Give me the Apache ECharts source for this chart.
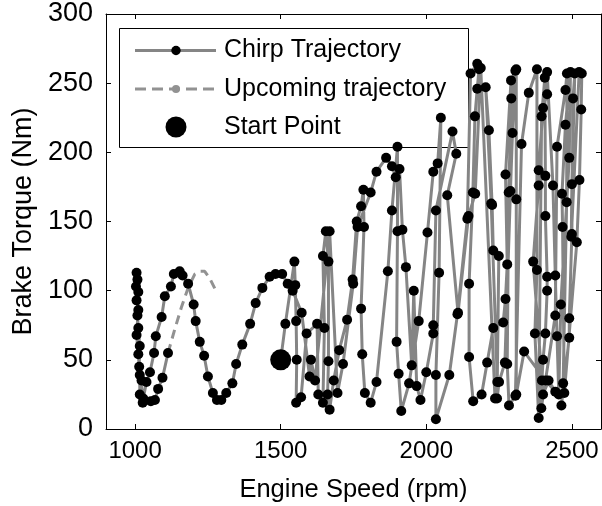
<!DOCTYPE html>
<html>
<head>
<meta charset="utf-8">
<script src="https://cdn.jsdelivr.net/npm/echarts@6/dist/echarts.min.js"></script>
<style>
html,body{margin:0;padding:0;background:#fff;}
#chart{width:602px;height:506px;}
</style>
</head>
<body>
<div id="chart"></div>
<script>
// ---- data ----
var chirpSpeed = [
1500,1516,1547,1550,1553,1555,1553,1570,1589,1625,1629,1645,1650,1645,1655,1664,1664,1661,1668,
1682,1701,1728,1747,1761,1776,1784,1786,1776,1780,1789,1809,1829,1868,1882,1901,1901,1898,1905,1914,
1941,1974,2004,2024,2039,2050,2044,2033,2033,2079,2107,2141,2152,2175,2181,2175,2167,2160,2147,2147,2161,
2190,2209,2230,2264,2272,2278,2272,2291,2306,2292,2283,2278,2284,2306,2327,2352,2380,2380,2373,2386,
2396,2407,2409,2409,2415,2415,2409,2401,2397,2395,2443,2449,2478,2483,2482,2470,2464,2491,2491,2500,
2504,2510,2500,2498,2525,2534,2532,2526,2517,2474,2468,2466,2478,2495,2491,2462,2455,2449,2443,2435,
2415,2415,2401,2386,2386,2367,2401,2420,2443,2410,2336,2309,2309,2309,2296,2289,2270,2250,2243,2249,2230,2226,2215,2204,
2223,2244,2236,2187,2168,2145,2109,2072,2103,2090,2033,2024,2024,2000,1980,1967,1957,1950,1930,1918,
1908,1895,1882,1862,1829,1809,1764,1749,1714,1695,1668,1618,1604,1599,1572,1541,1524,
1505,1482,1462,1437,1414,1395,1368,1347,1334,1313,1296,1281,1267,1250,1237,1222,1208,1201,1182,1163,
1153,1133,1123,1102,1091,1071,1065,1051,1039,1028,1016,1016,1011,1005,1011,1005,1008,1005,1003,1011,
1008,1011,1016,1014,1022,1026,1054,1068,1079,1094,1113
];
var chirpTorque = [
50,76,121,104,78,50,19,23,69,76,25,19,73,125,143,121,49,25,14,
35,57,79,108,150,161,173,146,87,54,26,19,34,114,158,204,143,63,40,13,
33,78,142,186,192,225,113,39,7,39,83,152,257,264,260,246,226,171,105,52,20,
25,48,73,77,94,119,184,252,259,239,171,47,17,24,206,243,260,115,69,8,
226,254,183,154,110,100,69,50,35,15,82,204,245,257,164,33,17,66,80,141,
239,257,177,139,258,257,231,180,135,26,146,170,220,258,196,90,25,67,111,176,
258,242,232,187,176,121,25,35,27,35,56,25,166,260,214,172,48,34,22,125,129,162,216,247,
163,34,22,261,170,154,84,169,199,215,158,75,69,41,21,31,100,46,117,144,
188,182,190,196,186,171,146,105,47,26,143,35,50,38,84,100,105,
112,112,110,102,91,76,61,47,33,26,21,21,26,38,53,63,78,90,105,111,
114,112,103,96,81,67,55,41,34,22,25,39,54,68,86,93,108,113,103,99,
82,73,60,45,35,19,20,21,29,37,55
];
var upcomingSpeed  = [1113,1136,1159,1182,1205,1222,1239,1256,1275];
var upcomingTorque = [55,72,88,102,112,114,114,109,101];
var startSpeed  = [1500];
var startTorque = [50];
var xTickValues = [1000,1500,2000,2500];
var yTickValues = [0,50,100,150,200,250,300];
var legendLabels = ['Chirp Trajectory','Upcoming trajectory','Start Point'];

function pairs(xs, ys){ return xs.map(function(x,i){ return [x, ys[i]]; }); }

var FONT = '"Liberation Sans", Arial, Helvetica, sans-serif';
var chart = echarts.init(document.getElementById('chart'), null, {renderer:'canvas'});

var tickStyle = {show:true, inside:true, length:5, lineStyle:{color:'#000', width:1}};
var lineStyleAxis = {show:true, onZero:false, lineStyle:{color:'#000', width:1}};

var option = {
  animation:false,
  backgroundColor:'#fff',
  grid:{left:106, right:1, top:14, bottom:77, containLabel:false, outerBoundsMode:'none'},
  xAxis:[{
    type:'value', min:900, max:2600, position:'bottom',
    axisLine:lineStyleAxis,
    axisTick:Object.assign({customValues:xTickValues}, tickStyle),
    axisLabel:{customValues:xTickValues, color:'#000', fontSize:24, fontFamily:FONT, margin:10,
      formatter:function(v){ return String(v); }},
    splitLine:{show:false},
    name:'Engine Speed (rpm)', nameLocation:'middle', nameGap:48,
    nameTextStyle:{color:'#000', fontSize:25.5, fontFamily:FONT}
  },{
    type:'value', min:900, max:2600, position:'top',
    axisLine:lineStyleAxis,
    axisTick:Object.assign({customValues:xTickValues}, tickStyle),
    axisLabel:{show:false},
    splitLine:{show:false}
  }],
  yAxis:[{
    type:'value', min:0, max:300, interval:50, position:'left',
    axisLine:lineStyleAxis,
    axisTick:tickStyle,
    axisLabel:{color:'#000', fontSize:27, fontFamily:FONT, margin:13,
      formatter:function(v){ return String(v); }},
    splitLine:{show:false},
    name:'Brake Torque (Nm)', nameLocation:'middle', nameGap:60, nameRotate:90,
    nameTextStyle:{color:'#000', fontSize:27, fontFamily:FONT}
  },{
    type:'value', min:0, max:300, interval:50, position:'right',
    axisLine:lineStyleAxis,
    axisTick:tickStyle,
    axisLabel:{show:false},
    splitLine:{show:false}
  }],
  series:[{
    name:legendLabels[0], type:'line', data:pairs(chirpSpeed, chirpTorque),
    symbol:'circle', symbolSize:10, showSymbol:true, showAllSymbol:true,
    itemStyle:{color:'#000'}, lineStyle:{color:'#858585', width:3},
    z:3, clip:true
  },{
    name:legendLabels[1], type:'line', data:pairs(upcomingSpeed, upcomingTorque),
    symbol:'none', lineStyle:{color:'#929292', width:3, type:[9,6]}, z:2
  },{
    name:legendLabels[2], type:'scatter', data:pairs(startSpeed, startTorque),
    symbol:'circle', symbolSize:21, itemStyle:{color:'#000', borderWidth:0, opacity:1}, z:5,
    emphasis:{disabled:true}
  }],
  graphic:[{
    type:'group', z:100, children:[
      {type:'rect', shape:{x:119.5, y:28.5, width:349, height:119}, style:{fill:'#fff', stroke:'#000', lineWidth:1}},
      {type:'line', shape:{x1:135, y1:50.5, x2:216, y2:50.5}, style:{stroke:'#858585', lineWidth:3}},
      {type:'circle', shape:{cx:176, cy:50.5, r:4.7}, style:{fill:'#000'}},
      {type:'text', x:224, y:50.5, style:{text:legendLabels[0], fill:'#000', font:'25px '+FONT, verticalAlign:'middle', align:'left'}},
      {type:'line', shape:{x1:135, y1:89, x2:216, y2:89}, style:{stroke:'#929292', lineWidth:3, lineDash:[11,6]}},
      {type:'circle', shape:{cx:176, cy:89, r:4}, style:{fill:'#929292'}},
      {type:'text', x:224, y:89, style:{text:legendLabels[1], fill:'#000', font:'25px '+FONT, verticalAlign:'middle', align:'left'}},
      {type:'circle', shape:{cx:176, cy:127, r:10.5}, style:{fill:'#000'}},
      {type:'text', x:224, y:127, style:{text:legendLabels[2], fill:'#000', font:'25px '+FONT, verticalAlign:'middle', align:'left'}}
    ]
  }]
};
chart.setOption(option);
</script>
</body>
</html>
